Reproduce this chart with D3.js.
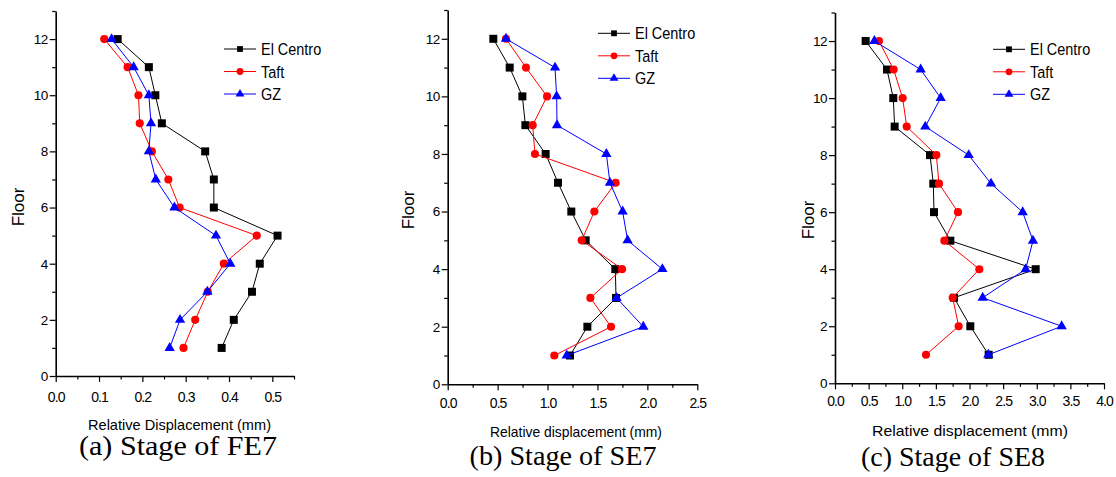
<!DOCTYPE html>
<html>
<head>
<meta charset="utf-8">
<script src="https://cdn.jsdelivr.net/npm/d3@7"></script>
<style>
  body { margin: 0; background: #fff; }
  svg { display: block; }
  .tick text { font-family: "Liberation Sans", Arial, sans-serif; fill: #000; }
</style>
</head>
<body>
<svg id="svg"></svg>
<script>
  const W = 1116, H = 477;

  // floors, top to bottom
  const floors = [12, 11, 10, 9, 8, 7, 6, 5, 4, 3, 2, 1];
  const seriesNames = ["El Centro", "Taft", "GZ"];
  const seriesColors = ["#000000", "#ff0000", "#0000ff"];

  // (a) FE7
  const aElCentro = [0.143, 0.215, 0.230, 0.245, 0.345, 0.365, 0.365, 0.512, 0.471, 0.453, 0.411, 0.383];
  const aTaft     = [0.112, 0.166, 0.191, 0.194, 0.222, 0.260, 0.286, 0.464, 0.388, 0.351, 0.322, 0.295];
  const aGZ       = [0.129, 0.180, 0.215, 0.220, 0.215, 0.231, 0.274, 0.370, 0.403, 0.350, 0.287, 0.263];

  // (b) SE7
  const bElCentro = [0.457, 0.621, 0.748, 0.778, 0.981, 1.105, 1.238, 1.382, 1.679, 1.686, 1.399, 1.225];
  const bTaft     = [0.584, 0.784, 0.995, 0.851, 0.874, 1.682, 1.469, 1.342, 1.746, 1.429, 1.636, 1.068];
  const bGZ       = [0.584, 1.075, 1.091, 1.095, 1.589, 1.625, 1.752, 1.802, 2.150, 1.692, 1.959, 1.192];

  // (c) SE8
  const cElCentro = [0.456, 0.773, 0.867, 0.887, 1.413, 1.462, 1.472, 1.715, 2.984, 1.770, 2.012, 2.285];
  const cTaft     = [0.654, 0.872, 1.006, 1.066, 1.507, 1.546, 1.829, 1.626, 2.146, 1.750, 1.839, 1.353];
  const cGZ       = [0.585, 1.274, 1.571, 1.343, 1.988, 2.320, 2.791, 2.944, 2.835, 2.196, 3.370, 2.280];

  const yTicks = [0, 2, 4, 6, 8, 10, 12];
  const yMinor = [1, 3, 5, 7, 9, 11, 13];
  const aXTicks = [0, 0.1, 0.2, 0.3, 0.4, 0.5];
  const aXMinor = [0.05, 0.15, 0.25, 0.35, 0.45, 0.55];
  const bXTicks = [0, 0.5, 1.0, 1.5, 2.0, 2.5];
  const bXMinor = [0.25, 0.75, 1.25, 1.75, 2.25];
  const cXTicks = [0, 0.5, 1.0, 1.5, 2.0, 2.5, 3.0, 3.5, 4.0];
  const cXMinor = [0.25, 0.75, 1.25, 1.75, 2.25, 2.75, 3.25, 3.75];

  const xTitles = ["Relative Displacement (mm)", "Relative displacement  (mm)", "Relative displacement  (mm)"];
  const captions = ["(a) Stage of FE7", "(b) Stage of SE7", "(c) Stage of SE8"];

  // layout of each panel
  const panels = [
    { series: [aElCentro, aTaft, aGZ], xMax: 0.55, xTicks: aXTicks, xMinor: aXMinor,
      left: 55.7, right: 294, top: 11, bottom: 376, xPad: 10,
      floorX: 17.5, floorY: 207, legX: 224, legY: 49,
      titleX: 179.5, titleY: 430, titleW: 183, capX: 178, capY: 455, capW: 198 },
    { series: [bElCentro, bTaft, bGZ], xMax: 2.5, xTicks: bXTicks, xMinor: bXMinor,
      left: 447.7, right: 697.3, top: 10, bottom: 384.3, xPad: 8,
      floorX: 408, floorY: 210, legX: 598, legY: 33.3,
      titleX: 576, titleY: 437, titleW: 172, capX: 563, capY: 465, capW: 187 },
    { series: [cElCentro, cTaft, cGZ], xMax: 4.0, xTicks: cXTicks, xMinor: cXMinor,
      left: 835, right: 1104, top: 12.5, bottom: 383.3, xPad: 7,
      floorX: 808, floorY: 220, legX: 993, legY: 49.3,
      titleX: 970, titleY: 436, titleW: 196, capX: 953, capY: 466, capW: 184 }
  ];

  const symbols = [d3.symbolSquare, d3.symbolCircle, d3.symbolTriangle];
  const symbolSizes = [64, 52, 46];
  const legendSizes = [34, 36, 34];

  const svg = d3.select("#svg")
      .attr("width", W)
      .attr("height", H);

  panels.forEach(function(p, pi) {
    const xScale = d3.scaleLinear().domain([0, p.xMax]).range([p.left, p.right]);
    const yScale = d3.scaleLinear().domain([0, 13]).range([p.bottom, p.top]);

    // minor ticks
    svg.append("g")
        .attr("transform", `translate(0, ${p.bottom})`)
        .call(d3.axisBottom(xScale).tickValues(p.xMinor).tickSize(3.5).tickFormat("").tickSizeOuter(0))
        .call(g => g.select(".domain").remove())
        .selectAll("line").attr("stroke", "#000").attr("stroke-width", 1.2);

    svg.append("g")
        .attr("transform", `translate(${p.left}, 0)`)
        .call(d3.axisLeft(yScale).tickValues(yMinor).tickSize(3.5).tickFormat("").tickSizeOuter(0))
        .call(g => g.select(".domain").remove())
        .selectAll("line").attr("stroke", "#000").attr("stroke-width", 1.2);

    // major axes
    const xAxis = svg.append("g")
        .attr("transform", `translate(0, ${p.bottom})`)
        .call(d3.axisBottom(xScale).tickValues(p.xTicks).tickSize(6).tickPadding(p.xPad)
          .tickFormat(d3.format(".1f")).tickSizeOuter(0));
    xAxis.select(".domain").attr("stroke", "#000").attr("stroke-width", 1.6);
    xAxis.selectAll(".tick line").attr("stroke", "#000").attr("stroke-width", 1.2);
    xAxis.selectAll(".tick text").attr("font-size", 14).attr("letter-spacing", "-0.9px");

    const yAxis = svg.append("g")
        .attr("transform", `translate(${p.left}, 0)`)
        .call(d3.axisLeft(yScale).tickValues(yTicks).tickSize(6).tickPadding(2).tickSizeOuter(0));
    yAxis.select(".domain").attr("stroke", "#000").attr("stroke-width", 1.6);
    yAxis.selectAll(".tick line").attr("stroke", "#000").attr("stroke-width", 1.2);
    yAxis.selectAll(".tick text").attr("font-size", 13.5).attr("letter-spacing", "-0.5px");

    // series lines and markers
    p.series.forEach(function(vals, si) {
      const pts = floors.map((f, i) => ({ floor: f, v: vals[i] }));

      svg.append("path")
          .datum(pts)
          .attr("fill", "none")
          .attr("stroke", seriesColors[si])
          .attr("stroke-width", 1)
          .attr("d", d3.line()
            .x(function(d) { return xScale(d.v) })
            .y(function(d) { return yScale(d.floor) })
          );

      svg.selectAll(null)
          .data(pts)
          .enter().append("path")
          .attr("transform", d => `translate(${xScale(d.v)}, ${yScale(d.floor)})`)
          .attr("fill", seriesColors[si])
          .attr("d", d3.symbol().type(symbols[si]).size(symbolSizes[si]));
    });

    // legend
    seriesNames.forEach(function(name, si) {
      const ly = p.legY + si * 22.5;
      svg.append("line")
          .attr("x1", p.legX).attr("x2", p.legX + 32)
          .attr("y1", ly).attr("y2", ly)
          .attr("stroke", seriesColors[si])
          .attr("stroke-width", 1);
      svg.append("path")
          .attr("transform", `translate(${p.legX + 16}, ${ly})`)
          .attr("fill", seriesColors[si])
          .attr("d", d3.symbol().type(symbols[si]).size(legendSizes[si]));
      svg.append("text")
          .attr("transform", `translate(${p.legX + 37}, ${ly}) scale(0.85, 1)`)
          .attr("dy", "0.36em")
          .attr("font-family", "Liberation Sans, Arial, sans-serif")
          .attr("font-size", 17)
          .text(name);
    });

    // axis titles
    svg.append("text")
        .attr("transform", `translate(${p.floorX}, ${p.floorY}) rotate(-90)`)
        .attr("text-anchor", "middle")
        .attr("dy", "0.36em")
        .attr("font-family", "Liberation Sans, Arial, sans-serif")
        .attr("font-size", 17)
        .text("Floor");

    svg.append("text")
        .attr("x", p.titleX - p.titleW / 2)
        .attr("y", p.titleY)
        .attr("font-family", "Liberation Sans, Arial, sans-serif")
        .attr("font-size", 14.5)
        .attr("textLength", p.titleW)
        .attr("lengthAdjust", "spacingAndGlyphs")
        .text(xTitles[pi]);

    // caption
    svg.append("text")
        .attr("x", p.capX - p.capW / 2)
        .attr("y", p.capY)
        .attr("font-family", "Liberation Serif, Times New Roman, serif")
        .attr("font-size", 26.5)
        .attr("textLength", p.capW)
        .attr("lengthAdjust", "spacingAndGlyphs")
        .text(captions[pi]);
  });
</script>
</body>
</html>
